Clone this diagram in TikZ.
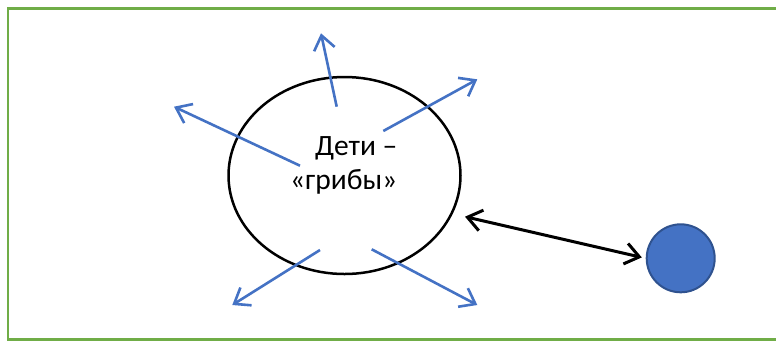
\documentclass[tikz,border=0pt]{standalone}
\usepackage{fontspec}
\setmainfont{Carlito}
\usetikzlibrary{arrows.meta,shapes.geometric}
\definecolor{frameGreen}{RGB}{112,173,71}
\definecolor{arrowBlue}{RGB}{68,114,196}
\definecolor{circEdge}{RGB}{47,82,143}
\tikzset{
  frame/.style={draw=frameGreen,line width=2.5pt},
  bubble/.style={ellipse,draw=black,line width=2.5pt,minimum width=232pt,minimum height=197pt,inner sep=0pt},
  label text/.style={font=\fontsize{29.5}{34}\selectfont,align=right,inner sep=0pt},
  ray/.style={draw=arrowBlue,line width=2.6pt,-{Straight Barb[length=14pt,width=21pt]}},
  link/.style={draw=black,line width=3pt,{Straight Barb[length=14pt,width=21pt]}-{Straight Barb[length=14pt,width=21pt]}},
  ball/.style={circle,fill=arrowBlue,draw=circEdge,line width=2pt,minimum size=68pt,inner sep=0pt}
}
\begin{document}
\begin{tikzpicture}[x=1pt,y=-1pt]
\useasboundingbox (0,0) rectangle (776,341);
\draw[frame] (8,8.5) rectangle (800,339.5);
\node[bubble] (E) at (344.5,175.5) {};
\node[label text,anchor=east] (T) at (397.5,165) {Дети –\\«грибы»};
\node[ball] (C) at (680.7,258.3) {};
% blue rays
\coordinate (s1) at (336.7,106.7); \coordinate (t1) at (321,33.3);
\coordinate (s2) at (383.3,131);   \coordinate (t2) at (477.3,79.3);
\coordinate (s3) at (300,165.7);   \coordinate (t3) at (174,106.7);
\coordinate (s4) at (320,250);     \coordinate (t4) at (232.3,305);
\coordinate (s5) at (371.7,249.3); \coordinate (t5) at (477.3,305);
\draw[ray] (s1) -- (t1);
\draw[ray] (s2) -- (t2);
\draw[ray] (s3) -- (t3);
\draw[ray] (s4) -- (t4);
\draw[ray] (s5) -- (t5);
% double arrow
\coordinate (d1) at (465,216.7);
\draw[link,shorten >=4pt] (d1) -- (C.west);
\end{tikzpicture}
\end{document}
